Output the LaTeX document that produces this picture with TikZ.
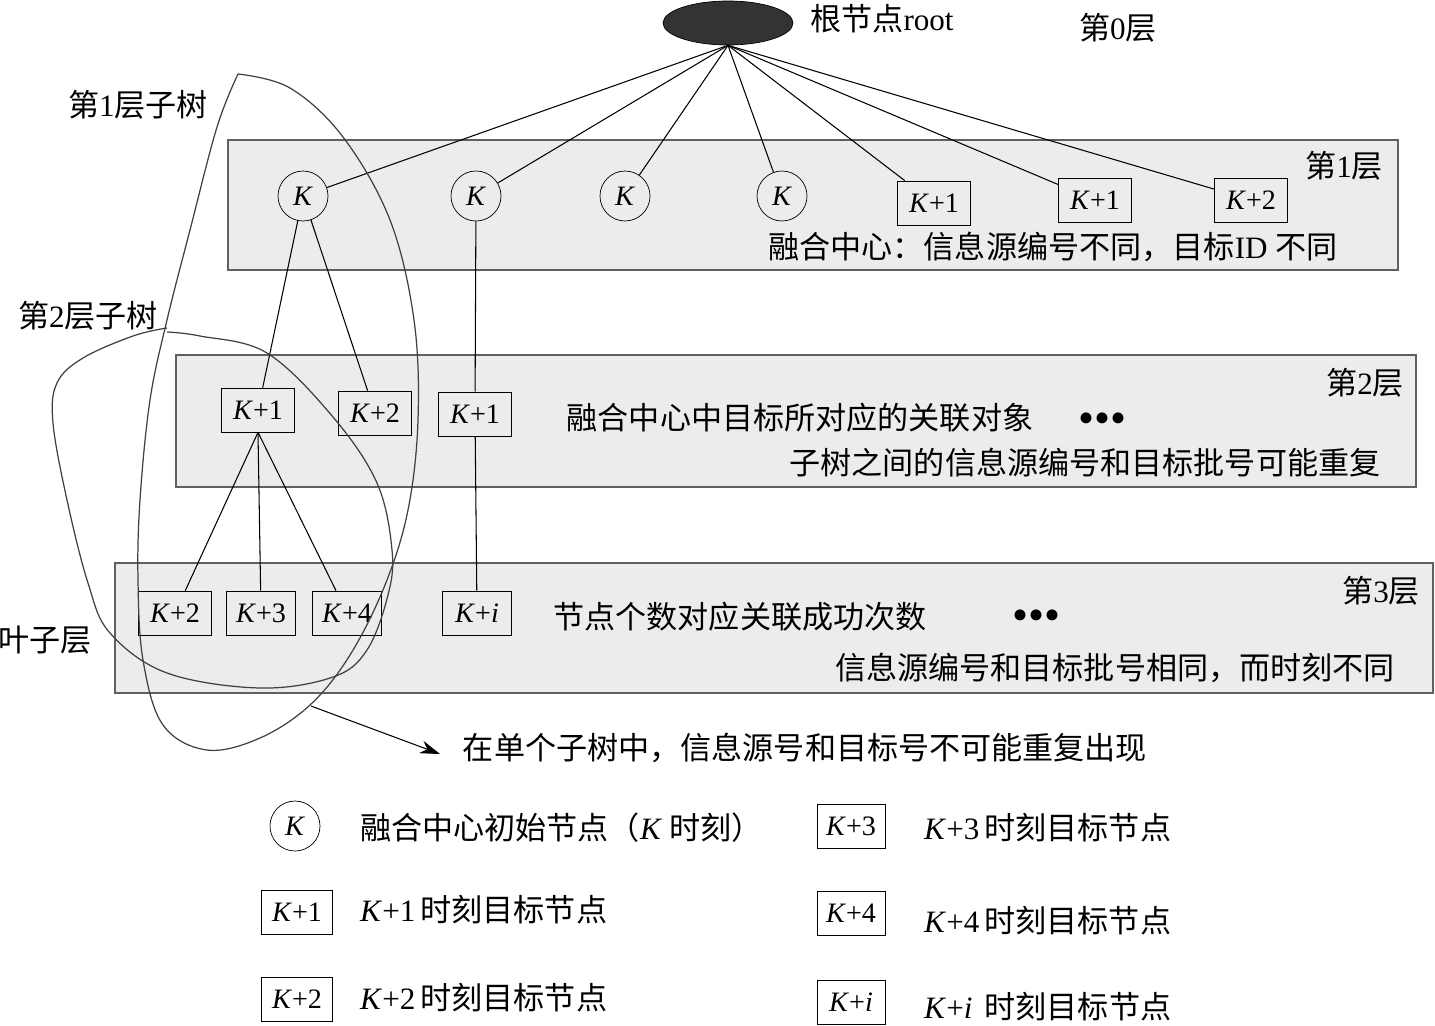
\documentclass[tikz,border=0pt]{standalone}
\usepackage{fontspec}
\setmainfont{Liberation Serif}
\newfontfamily\zhfont{Noto Sans CJK SC}
\newcommand{\zh}[1]{{\zhfont #1}}
\newcommand{\Kt}[1]{\textit{K}+#1}
\usetikzlibrary{shapes.geometric, arrows.meta, positioning}

\begin{document}
\begin{tikzpicture}[
    x=0.02cm, y=-0.02cm,
    every node/.style={font=\fontsize{17.7}{20}\selectfont},
    layer/.style={draw=gray!75!black, fill=gray!15, line width=0.8pt},
    knode/.style={draw, circle, minimum size=1cm, inner sep=0pt, font=\fontsize{16}{18}\selectfont},
    tnode/.style={draw, rectangle, minimum width=1.46cm, minimum height=0.88cm, inner sep=1pt, font=\fontsize{16}{18}\selectfont},
    link/.style={line width=0.6pt},
    subtree/.style={draw=black!75, line width=0.7pt},
    arrow/.style={link, -{Stealth[length=4mm, width=2.6mm]}},
    dotrow/.style={font=\fontsize{26}{28}\selectfont},
  ]
  \useasboundingbox (0,0) rectangle (1435,1025);

  % Layer bands
  \draw[layer] (228,140) rectangle (1398,270);
  \draw[layer] (176,355) rectangle (1416,487);
  \draw[layer] (115,563) rectangle (1433,693);

  % Root
  \node[draw, ellipse, fill=black!80, minimum width=2.6cm, minimum height=0.88cm] (root) at (728,23) {};
  \node[anchor=west] (rootlbl) at (804,19) {\zh{根节点}root};
  \node (lay0) at (1118,28) {\zh{第}0\zh{层}};

  % Layer 1
  \node[knode] (a1) at (303,196) {\textit{K}};
  \node[knode] (a2) at (476,196) {\textit{K}};
  \node[knode] (a3) at (625,196) {\textit{K}};
  \node[knode] (a4) at (782,196) {\textit{K}};
  \node[tnode] (b1) at (934,203) {\Kt{1}};
  \node[tnode] (b2) at (1095,200) {\Kt{1}};
  \node[tnode] (b3) at (1251,200) {\Kt{2}};
  \node (lay1) at (1344,166) {\zh{第}1\zh{层}};
  \node (txt1) at (1053,247) {\zh{融合中心：信息源编号不同，目标}ID \zh{不同}};

  % Layer 2
  \node[tnode] (c1) at (258,410) {\Kt{1}};
  \node[tnode] (c2) at (375,413) {\Kt{2}};
  \node[tnode] (c3) at (475,414) {\Kt{1}};
  \node (lay2) at (1365,383) {\zh{第}2\zh{层}};
  \node (txt2a) at (800,418) {\zh{融合中心中目标所对应的关联对象}};
  \node[dotrow] (dots2) at (1102,423) {\textbullet\textbullet\textbullet};
  \node (txt2b) at (1085,463) {\zh{子树之间的信息源编号和目标批号可能重复}};

  % Layer 3
  \node[tnode] (d1) at (175,613) {\Kt{2}};
  \node[tnode, minimum width=1.38cm] (d2) at (261,613) {\Kt{3}};
  \node[tnode, minimum width=1.38cm] (d3) at (347,613) {\Kt{4}};
  \node[tnode, minimum width=1.38cm] (d4) at (477,613) {\Kt{\textit{i}}};
  \node (lay3) at (1381,591) {\zh{第}3\zh{层}};
  \node (txt3a) at (740,617) {\zh{节点个数对应关联成功次数}};
  \node[dotrow] (dots3) at (1036,620) {\textbullet\textbullet\textbullet};
  \node (txt3b) at (1115,668) {\zh{信息源编号和目标批号相同，而时刻不同}};

  % Tree edges
  \foreach \n in {a1,a2,a3,a4,b1,b2,b3}
    \draw[link] (root.south) -- (\n);
  \draw[link] (a1) -- (c1);
  \draw[link] (a1) -- (c2);
  \draw[link] (a2) -- (c3);
  \draw[link] (c3) -- (d4);
  \draw[link] (c1.south) -- (d1);
  \draw[link] (c1.south) -- (d2);
  \draw[link] (c1.south) -- (d3);

  % Subtree outlines
  \draw[subtree] plot[smooth, tension=0.6] coordinates {(238,74) (290,88) (343,137) (390,220)
    (414,320) (418,420) (408,510) (385,585) (350,655) (310,705) (260,738) (207,750)
    (163,725) (143,660) (138,580) (140,500) (150,400) (167,320) (190,230) (217,127) (238,74)};
  \draw[subtree] plot[smooth, tension=0.6] coordinates {(167,332) (200,336) (267,353) (333,417)
    (377,483) (392,550) (388,595) (367,650) (333,677) (260,688) (167,673) (110,633)
    (88,583) (67,500) (53,423) (57,383) (83,358) (133,336) (167,328)};
  \node (sub1) at (138,105) {\zh{第}1\zh{层子树}};
  \node (sub2) at (88,316) {\zh{第}2\zh{层子树}};
  \node (leaf) at (45,640) {\zh{叶子层}};

  % Note
  \coordinate (arrstart) at (311,706);
  \coordinate (arrtip) at (440,754);
  \draw[arrow] (arrstart) -- (arrtip);
  \node (note) at (805,748) {\zh{在单个子树中，信息源号和目标号不可能重复出现}};

  % Legend
  \node[knode] (lgk) at (295,826) {\textit{K}};
  \node[anchor=west] (lgktxt) at (354,828) {\zh{融合中心初始节点（}\textit{K}\zh{ 时刻）}};
  \node[tnode, minimum width=1.42cm] (lg1) at (297,912) {\Kt{1}};
  \node[anchor=west] (lg1txt) at (354,910) {\Kt{1}\,\zh{时刻目标节点}};
  \node[tnode, minimum width=1.42cm] (lg2) at (297,999) {\Kt{2}};
  \node[anchor=west] (lg2txt) at (354,998) {\Kt{2}\,\zh{时刻目标节点}};
  \node[tnode, minimum width=1.36cm] (lg3) at (851,826) {\Kt{3}};
  \node[anchor=west] (lg3txt) at (918,828) {\Kt{3}\,\zh{时刻目标节点}};
  \node[tnode, minimum width=1.36cm] (lg4) at (851,913) {\Kt{4}};
  \node[anchor=west] (lg4txt) at (918,921) {\Kt{4}\,\zh{时刻目标节点}};
  \node[tnode, minimum width=1.36cm] (lgi) at (851,1002) {\Kt{\textit{i}}};
  \node[anchor=west] (lgitxt) at (918,1007) {\Kt{\textit{i}}\,\zh{ 时刻目标节点}};
\end{tikzpicture}
\end{document}
